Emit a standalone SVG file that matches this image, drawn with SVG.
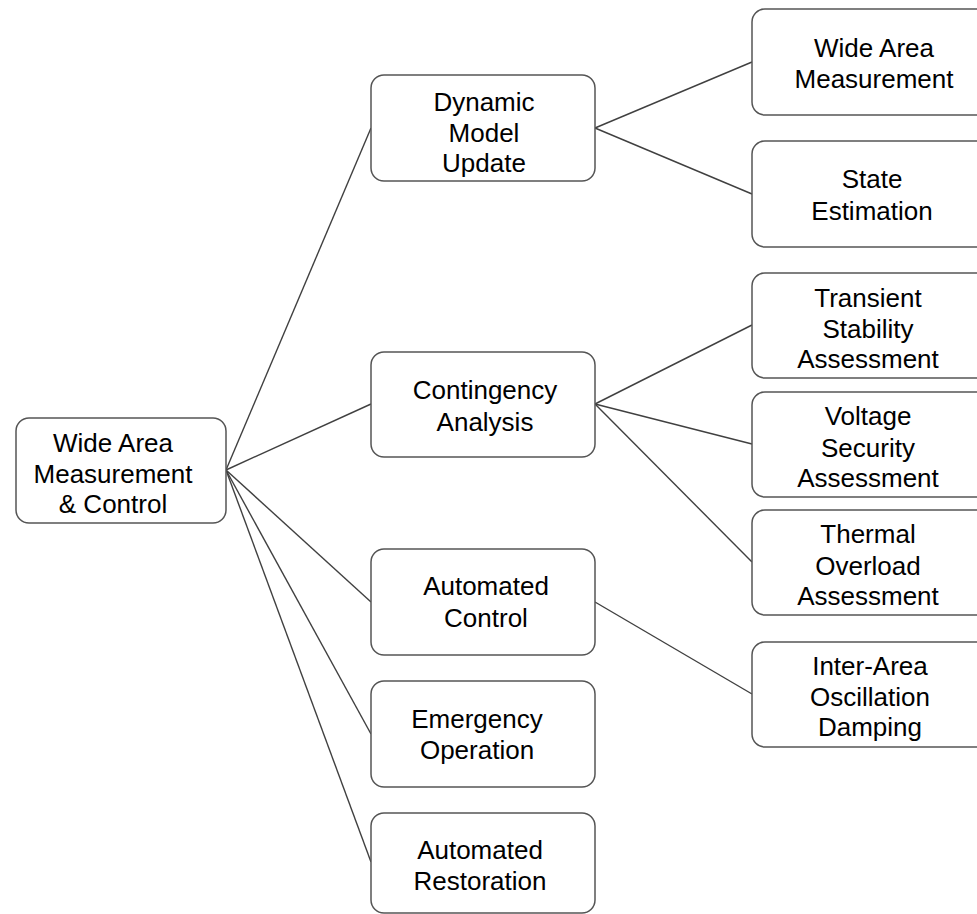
<svg xmlns="http://www.w3.org/2000/svg" width="977" height="914" viewBox="0 0 977 914">
  <style>
    .box { fill: #ffffff; stroke: #555555; stroke-width: 1.5; }
    .lbl { font-family: "Liberation Sans", Arial, sans-serif; font-size: 26px; fill: #000000; text-anchor: middle; }
    .wire { stroke: #404040; stroke-width: 1.4; fill: none; }
  </style>
  <rect width="977" height="914" fill="#ffffff"/>

  <!-- connectors -->
  <g id="connectors" class="wire">
    <line x1="226" y1="470" x2="371" y2="128"/>
    <line x1="226" y1="470" x2="371" y2="404"/>
    <line x1="226" y1="470" x2="371" y2="602"/>
    <line x1="226" y1="470" x2="371" y2="734"/>
    <line x1="226" y1="470" x2="371" y2="862"/>
    <line x1="595" y1="128" x2="752" y2="62"/>
    <line x1="595" y1="128" x2="752" y2="194"/>
    <line x1="595" y1="404" x2="752" y2="325"/>
    <line x1="595" y1="404" x2="752" y2="444"/>
    <line x1="595" y1="404" x2="752" y2="562"/>
    <line x1="595" y1="602" x2="752" y2="694"/>
  </g>

  <!-- root -->
  <g id="wide-area-control">
    <rect class="box" x="16" y="418" width="210" height="105" rx="13"/>
    <text class="lbl" x="113"><tspan x="113" y="452">Wide Area</tspan><tspan x="113" y="483">Measurement</tspan><tspan x="113" y="513">&amp; Control</tspan></text>
  </g>

  <!-- middle column -->
  <g id="dynamic-model-update">
    <rect class="box" x="371" y="75" width="224" height="106" rx="13"/>
    <text class="lbl"><tspan x="484" y="111">Dynamic</tspan><tspan x="484" y="142">Model</tspan><tspan x="484" y="172">Update</tspan></text>
  </g>
  <g id="contingency-analysis">
    <rect class="box" x="371" y="352" width="224" height="105" rx="13"/>
    <text class="lbl"><tspan x="485" y="399">Contingency</tspan><tspan x="485" y="431">Analysis</tspan></text>
  </g>
  <g id="automated-control">
    <rect class="box" x="371" y="549" width="224" height="106" rx="13"/>
    <text class="lbl"><tspan x="486" y="595">Automated</tspan><tspan x="486" y="627">Control</tspan></text>
  </g>
  <g id="emergency-operation">
    <rect class="box" x="371" y="681" width="224" height="106" rx="13"/>
    <text class="lbl"><tspan x="477" y="728">Emergency</tspan><tspan x="477" y="759">Operation</tspan></text>
  </g>
  <g id="automated-restoration">
    <rect class="box" x="371" y="813" width="224" height="100" rx="13"/>
    <text class="lbl"><tspan x="480" y="859">Automated</tspan><tspan x="480" y="890">Restoration</tspan></text>
  </g>

  <!-- right column -->
  <g id="wide-area-measurement">
    <rect class="box" x="752" y="9" width="240" height="106" rx="13"/>
    <text class="lbl"><tspan x="874" y="57">Wide Area</tspan><tspan x="874" y="88">Measurement</tspan></text>
  </g>
  <g id="state-estimation">
    <rect class="box" x="752" y="141" width="240" height="106" rx="13"/>
    <text class="lbl"><tspan x="872" y="188">State</tspan><tspan x="872" y="220">Estimation</tspan></text>
  </g>
  <g id="transient-stability">
    <rect class="box" x="752" y="273" width="240" height="105" rx="13"/>
    <text class="lbl"><tspan x="868" y="307">Transient</tspan><tspan x="868" y="338">Stability</tspan><tspan x="868" y="368">Assessment</tspan></text>
  </g>
  <g id="voltage-security">
    <rect class="box" x="752" y="392" width="240" height="105" rx="13"/>
    <text class="lbl"><tspan x="868" y="425">Voltage</tspan><tspan x="868" y="457">Security</tspan><tspan x="868" y="487">Assessment</tspan></text>
  </g>
  <g id="thermal-overload">
    <rect class="box" x="752" y="510" width="240" height="105" rx="13"/>
    <text class="lbl"><tspan x="868" y="543">Thermal</tspan><tspan x="868" y="575">Overload</tspan><tspan x="868" y="605">Assessment</tspan></text>
  </g>
  <g id="inter-area-damping">
    <rect class="box" x="752" y="642" width="240" height="105" rx="13"/>
    <text class="lbl"><tspan x="870" y="675">Inter-Area</tspan><tspan x="870" y="706">Oscillation</tspan><tspan x="870" y="736">Damping</tspan></text>
  </g>
</svg>
